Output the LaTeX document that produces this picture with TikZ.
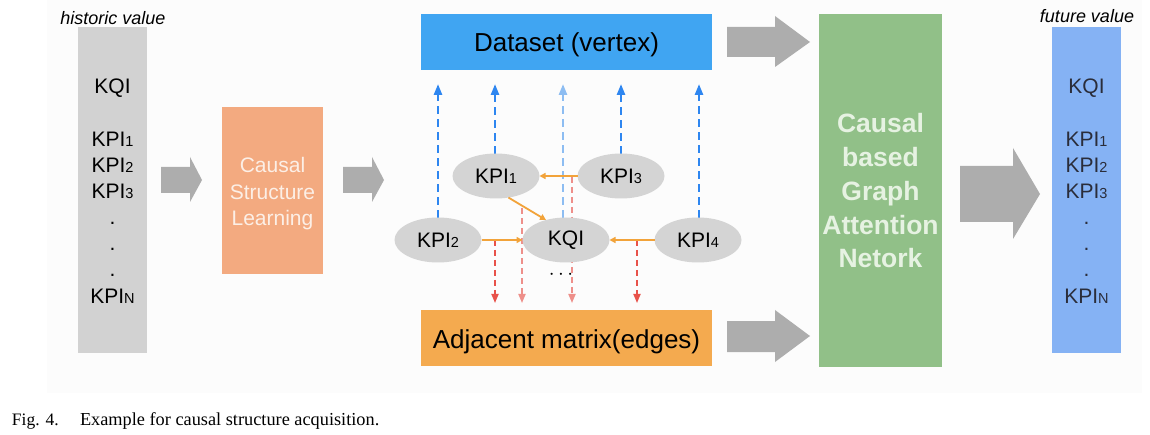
\documentclass[tikz,border=0pt]{standalone}
\usepackage{fontspec}
\setmainfont{Liberation Sans}
\newfontfamily\capfont{Liberation Serif}
\usetikzlibrary{arrows.meta,shapes.geometric}
\definecolor{bgc}{HTML}{FCFCFC}
\definecolor{histc}{HTML}{D2D2D2}
\definecolor{futc}{HTML}{85B2F4}
\definecolor{arrc}{HTML}{ADADAD}
\definecolor{cslc}{HTML}{F3AA80}
\definecolor{datac}{HTML}{40A5F2}
\definecolor{adjc}{HTML}{F4AA4F}
\definecolor{gatc}{HTML}{91C088}
\definecolor{ellc}{HTML}{D4D4D4}
\definecolor{bluedash}{HTML}{2E86F0}
\definecolor{lbluedash}{HTML}{8DBDF2}
\definecolor{reddash}{HTML}{E8524A}
\definecolor{lreddash}{HTML}{EE8F8A}
\definecolor{edgec}{HTML}{F2A33A}
\definecolor{csltext}{HTML}{FCEFE6}
\definecolor{gattext}{HTML}{E6F2E2}
\definecolor{futtext}{HTML}{2A2D3A}
\newcommand{\kpisub}[1]{{\fontsize{14.5}{14.5}\selectfont #1}}
\begin{document}
\begin{tikzpicture}[x=1pt,y=-1pt,
  every node/.style={inner sep=0pt, outer sep=0pt},
  colbox/.style={minimum width=69pt, minimum height=326pt},
  coltext/.style={anchor=base, font=\fontsize{21}{24}\selectfont},
  italiclabel/.style={font=\fontsize{18}{20}\selectfont\itshape},
  kpiell/.style={ellipse, fill=ellc, minimum width=87pt, minimum height=45pt, font=\fontsize{21}{24}\selectfont},
  bigbox/.style={minimum width=291pt, minimum height=56pt, font=\fontsize{26}{28}\selectfont},
  blockarrow/.style={fill=arrc},
  upblue/.style={bluedash, line width=2.5pt, dash pattern=on 8pt off 5pt, -{Triangle[length=11pt,width=8pt]}, shorten >=14pt},
  downred/.style={reddash, line width=1.7pt, dash pattern=on 6pt off 4pt, -{Triangle[length=9pt,width=7pt]}, shorten >=7pt},
  causeedge/.style={edgec, line width=1.8pt, -{Triangle[length=6pt,width=6pt]}}
]
\useasboundingbox (0,0) rectangle (1150,435);
\fill[bgc] (47,0) rectangle (1142,393);

% historic column
\node[italiclabel] (histlabel) at (113,18) {historic value};
\node[colbox, fill=histc] (hist) at (112.5,190) {};
\node[coltext] (h0) at (112.5,94) {KQI};
\node[coltext] (h1) at (112.5,147) {KPI\kpisub{1}};
\node[coltext] (h2) at (112.5,173) {KPI\kpisub{2}};
\node[coltext] (h3) at (112.5,199) {KPI\kpisub{3}};
\node[coltext] (hd1) at (112.5,225) {.};
\node[coltext] (hd2) at (112.5,251) {.};
\node[coltext] (hd3) at (112.5,277) {.};
\node[coltext] (hN) at (112.5,304) {KPI\kpisub{N}};

% arrow 1
\fill[blockarrow] (161,167) -- (190,167) -- (190,157) -- (202,180) -- (190,202) -- (190,193) -- (161,193) -- cycle;

% causal structure learning
\node[minimum width=101pt, minimum height=167pt, fill=cslc] (csl) at (272.5,190.5) {};
\node[anchor=base, text=csltext, font=\fontsize{21}{24}\selectfont] (csl1) at (272.5,173) {Causal};
\node[anchor=base, text=csltext, font=\fontsize{21}{24}\selectfont] (csl2) at (272.5,199.5) {Structure};
\node[anchor=base, text=csltext, font=\fontsize{21}{24}\selectfont] (csl3) at (272.5,226) {Learning};

% arrow 2
\fill[blockarrow] (343,167) -- (372,167) -- (372,157) -- (384,180) -- (372,202) -- (372,193) -- (343,193) -- cycle;

% dataset and adjacency
\node[bigbox, fill=datac] (data) at (566.5,42) {};
\node[anchor=base, font=\fontsize{26}{28}\selectfont] (datat) at (566.5,52) {Dataset (vertex)};
\node[bigbox, fill=adjc] (adj) at (566.5,338) {};
\node[anchor=base, font=\fontsize{26}{28}\selectfont] (adjt) at (566.5,348) {Adjacent matrix(edges)};

% graph node positions
\coordinate (pk1) at (496,176);
\coordinate (pk3) at (621,176);
\coordinate (pk2) at (438,240);
\coordinate (pkq) at (566,240);
\coordinate (pk4) at (698,240);

% blue dashed up arrows
\draw[upblue] (438,218) -- (438,70);
\draw[upblue] (495,154) -- (495,70);
\draw[upblue, lbluedash] (563,218) -- (563,70);
\draw[upblue] (621,154) -- (621,70);
\draw[upblue] (699,218) -- (699,70);

% red dashed down arrows
\coordinate (r1) at (495,240);
\coordinate (r2) at (522,208);
\coordinate (r3) at (572,177);
\coordinate (r4) at (637,240);
\draw[downred] (r1) -- (r1 |- adj.north);
\draw[downred, lreddash] (r2) -- (r2 |- adj.north);
\draw[downred, lreddash] (r3) -- (r3 |- adj.north);
\draw[downred] (r4) -- (r4 |- adj.north);

% ellipses
\node[kpiell] (kpi1) at (pk1) {KPI\kpisub{1}};
\node[kpiell] (kpi3) at (pk3) {KPI\kpisub{3}};
\node[kpiell] (kpi2) at (pk2) {KPI\kpisub{2}};
\node[kpiell] (kqi) at (pkq) {KQI};
\node[kpiell] (kpi4) at (pk4) {KPI\kpisub{4}};
\node[anchor=base, font=\fontsize{22}{24}\selectfont] (dots) at (561,280) {$\cdots$};

% causal edges
\draw[causeedge] (kpi3) -- (kpi1);
\draw[causeedge] (kpi1.300) -- (kqi.135);
\draw[causeedge] (kpi2) -- (kqi);
\draw[causeedge] (kpi4) -- (kqi);

% arrows into GAT
\fill[blockarrow] (727,27) -- (775,27) -- (775,16) -- (810,42) -- (775,67) -- (775,57) -- (727,57) -- cycle;
\fill[blockarrow] (727,321) -- (775,321) -- (775,310) -- (810,336) -- (775,362) -- (775,352) -- (727,352) -- cycle;

% GAT box
\node[minimum width=123pt, minimum height=353pt, fill=gatc] (gat) at (880.5,190.5) {};
\node[anchor=base, text=gattext, font=\fontsize{26.5}{28}\selectfont\bfseries] (g1) at (880.5,133) {Causal};
\node[anchor=base, text=gattext, font=\fontsize{26.5}{28}\selectfont\bfseries] (g2) at (880.5,167) {based};
\node[anchor=base, text=gattext, font=\fontsize{26.5}{28}\selectfont\bfseries] (g3) at (880.5,200.5) {Graph};
\node[anchor=base, text=gattext, font=\fontsize{26.5}{28}\selectfont\bfseries] (g4) at (880.5,234.5) {Attention};
\node[anchor=base, text=gattext, font=\fontsize{26.5}{28}\selectfont\bfseries] (g5) at (880.5,268) {Netork};

% big arrow
\fill[blockarrow] (960,166) -- (1013,166) -- (1013,148) -- (1040,194) -- (1013,239) -- (1013,222) -- (960,222) -- cycle;

% future column
\node[italiclabel] (futlabel) at (1087,16) {future value};
\node[colbox, fill=futc] (fut) at (1086.5,190) {};
\node[coltext, text=futtext] (f0) at (1086.5,94) {KQI};
\node[coltext, text=futtext] (f1) at (1086.5,147) {KPI\kpisub{1}};
\node[coltext, text=futtext] (f2) at (1086.5,173) {KPI\kpisub{2}};
\node[coltext, text=futtext] (f3) at (1086.5,199) {KPI\kpisub{3}};
\node[coltext, text=futtext] (fd1) at (1086.5,225) {.};
\node[coltext, text=futtext] (fd2) at (1086.5,251) {.};
\node[coltext, text=futtext] (fd3) at (1086.5,277) {.};
\node[coltext, text=futtext] (fN) at (1086.5,304) {KPI\kpisub{N}};

% caption
\node[anchor=base west, font=\capfont\fontsize{17.5}{20}\selectfont] (figlab) at (12,425) {Fig. 4.};
\node[anchor=base west, font=\capfont\fontsize{18.3}{20}\selectfont] (figcap) at (80,425) {Example for causal structure acquisition.};
\end{tikzpicture}
\end{document}
